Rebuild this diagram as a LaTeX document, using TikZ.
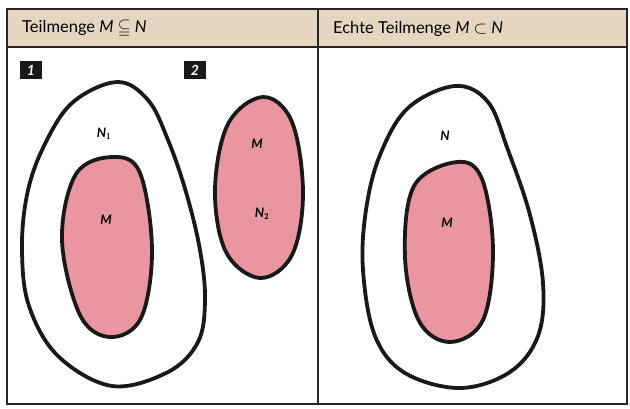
\documentclass[tikz,border=0pt]{standalone}
\usepackage{amssymb}
\usepackage{fontspec}
\newfontfamily\hfont{Lato}
\newfontfamily\lfont{Lato}
\usetikzlibrary{calc}
\definecolor{headbg}{RGB}{228,214,192}
\definecolor{setpink}{RGB}{233,150,160}
\begin{document}
\begin{tikzpicture}[x=1pt,y=-1pt,
  frameline/.style={line width=1.8pt,draw=black!85},
  setline/.style={line width=3.8pt,draw=black!90,line join=round},
  pinkset/.style={setline,fill=setpink},
  whiteset/.style={setline,fill=white},
  lbl/.style={font=\lfont\bfseries\itshape\fontsize{13}{13}\selectfont,inner sep=0pt},
  headtxt/.style={font=\hfont\fontsize{16.5}{16.5}\selectfont,anchor=base west,inner sep=0pt},
  numbox/.style={fill=black!90,text=white,minimum width=22pt,minimum height=18pt,inner sep=0pt,
    font=\lfont\bfseries\itshape\fontsize{14}{14}\selectfont}]
\useasboundingbox (0,0) rectangle (630,408);
\fill[white] (0,0) rectangle (630,408);
% header
\fill[headbg] (7,9) rectangle (627,47);
\draw[frameline] (7,9) rectangle (627,404);
\draw[frameline] (7,47) -- (627,47);
\draw[frameline] (318,9) -- (318,404);
\node[headtxt] (h1) at (22,32) {Teilmenge \itshape M\upshape\ $\subseteqq$\ \itshape N};
\node[headtxt] (h2) at (333,33) {Echte Teilmenge \itshape M\upshape\ $\subset$\ \itshape N};
% numbers
\node[numbox] (b1) at (31,70) {1};
\node[numbox] (b2) at (195,70) {2};
% left outer N1
\draw[whiteset] plot[smooth cycle,tension=0.6] coordinates {
 (117,82) (148,100) (168,140) (186,192) (200,250) (205,300) (198,342) (168,372) (112,386)
 (58,356) (29,306) (22,250) (27,195) (43,148) (72,103)};
% left inner M
\draw[pinkset] plot[smooth cycle,tension=0.6] coordinates {
 (113,157) (140,173) (152,250) (141,318) (110,337) (80,315) (62,240) (76,174)};
% ellipse M = N2
\draw[pinkset] plot[smooth cycle,tension=0.6] coordinates {
 (263,97) (292,122) (303,193) (292,255) (260,278) (226,252) (215,190) (228,124)};
% right outer N
\draw[whiteset] plot[smooth cycle,tension=0.6] coordinates {
 (455,86) (488,102) (508,150) (530,215) (543,283) (538,336) (510,372) (460,388)
 (405,373) (375,336) (363,270) (366,210) (380,155) (408,108)};
% right inner M
\draw[pinkset] plot[smooth cycle,tension=0.6] coordinates {
 (457,162) (482,179) (493,250) (483,320) (450,342) (419,321) (405,257) (414,186)};
% labels
\node[lbl] (n1) at (104,134) {N$_{\mathbf 1}$};
\node[lbl] (m1) at (106,220) {M};
\node[lbl] (m2) at (257,144) {M};
\node[lbl] (n2) at (262,214) {N$_{\mathbf 2}$};
\node[lbl] (n) at (445,136) {N};
\node[lbl] (m3) at (447,223) {M};
\end{tikzpicture}
\end{document}
